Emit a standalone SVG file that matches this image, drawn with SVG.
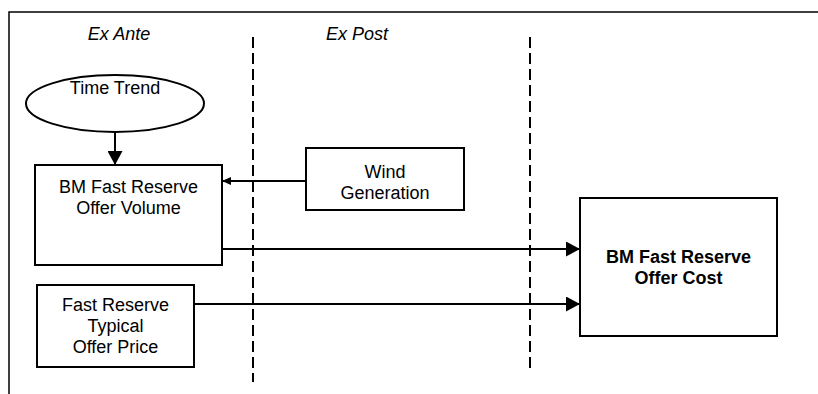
<svg xmlns="http://www.w3.org/2000/svg" width="818" height="394" viewBox="0 0 818 394">
<defs>
<marker id="big" markerWidth="14" markerHeight="15" refX="14" refY="7.5" orient="auto" markerUnits="userSpaceOnUse"><path d="M0,0 L14,7.5 L0,15 Z" fill="#000"/></marker>
<marker id="small" markerWidth="9" markerHeight="8" refX="9" refY="4" orient="auto" markerUnits="userSpaceOnUse"><path d="M0,0 L9,4 L0,8 Z" fill="#000"/></marker>
</defs>
<style>
text{font-family:"Liberation Sans",Arial,sans-serif;font-size:18px;fill:#000;text-anchor:middle}
.it{font-style:italic}
.b{font-weight:bold}
.box{fill:#fff;stroke:#000;stroke-width:2}
.dash{stroke:#000;stroke-width:2;stroke-dasharray:11 5;fill:none}
.conn{stroke:#000;stroke-width:2;fill:none}
</style>
<rect width="818" height="394" fill="#fff"/>
<g id="frame"><path d="M9,394 V12 H818" fill="none" stroke="#000" stroke-width="1.5"/></g>
<g id="labels">
<text class="it" x="119" y="40">Ex Ante</text>
<text class="it" x="357" y="40">Ex Post</text>
</g>
<g id="dividers">
<line class="dash" x1="253" y1="37" x2="253" y2="382"/>
<line class="dash" x1="530" y1="37" x2="530" y2="370"/>
</g>
<g id="time-trend">
<ellipse class="box" cx="115" cy="103.5" rx="89" ry="28.5"/>
<text x="115" y="93.5">Time Trend</text>
</g>
<g id="offer-volume">
<rect class="box" x="35" y="165" width="187" height="100"/>
<text x="128.5" y="192.5">BM Fast Reserve</text>
<text x="128.5" y="214.2">Offer Volume</text>
</g>
<g id="wind-generation">
<rect class="box" x="306" y="148" width="158" height="62"/>
<text x="385" y="177.5">Wind</text>
<text x="385" y="199">Generation</text>
</g>
<g id="typical-price">
<rect class="box" x="37" y="285" width="157" height="82"/>
<text x="115.5" y="310.7">Fast Reserve</text>
<text x="115.5" y="331.7">Typical</text>
<text x="115.5" y="352.7">Offer Price</text>
</g>
<g id="offer-cost">
<rect class="box" x="580" y="198" width="197" height="138"/>
<text class="b" x="678.5" y="262.7">BM Fast Reserve</text>
<text class="b" x="678.5" y="283.5">Offer Cost</text>
</g>
<g id="connectors">
<line class="conn" x1="115" y1="132" x2="115" y2="165" marker-end="url(#big)"/>
<line class="conn" x1="306" y1="181" x2="222" y2="181" marker-end="url(#small)"/>
<line class="conn" x1="222" y1="249" x2="580" y2="249" marker-end="url(#big)"/>
<line class="conn" x1="194" y1="304" x2="580" y2="304" marker-end="url(#big)"/>
</g>
</svg>
